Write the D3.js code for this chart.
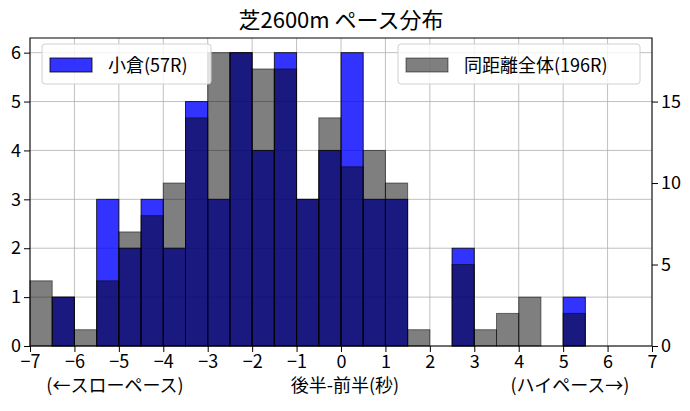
<!DOCTYPE html>
<html><head><meta charset="utf-8">
<script src="https://cdn.jsdelivr.net/npm/d3@7"></script>
<style>body{margin:0;background:#fff}text{font-family:"Noto Sans CJK JP",sans-serif}</style>
</head><body><div id="c"></div>
<script>
// bin left edges, width 0.5
const binStarts = d3.range(-7, 7, 0.5);
const kokura = [0,1,0,3,2,3,2,5,3,6,4,6,3,4,6,3,3,0,0,2,0,0,0,0,1,0,0,0];
const allDist = [4,3,1,4,7,8,10,14,18,18,17,17,9,14,11,12,10,1,0,5,1,2,3,0,2,0,0,0];
const xTicks = d3.range(-7, 8, 1);
const leftTicks = [0,1,2,3,4,5,6];
const rightTicks = [0,5,10,15];

const W = 690, H = 411, m = {l:30, r:38, t:38, b:65};
const svg = d3.select("#c").append("svg").attr("width", W).attr("height", H);
const x = d3.scaleLinear().domain([-7, 7]).range([m.l, W - m.r]);
const y = d3.scaleLinear().domain([0, 6.3]).range([H - m.b, m.t]);
const y2 = d3.scaleLinear().domain([0, 18.9]).range([H - m.b, m.t]);

// grid
svg.append("g").selectAll("line").data(xTicks).join("line")
  .attr("x1", d => x(d)).attr("x2", d => x(d)).attr("y1", m.t).attr("y2", H - m.b)
  .attr("stroke", "#b0b0b0").attr("stroke-width", 0.8);
svg.append("g").selectAll("line").data(leftTicks).join("line")
  .attr("x1", m.l).attr("x2", W - m.r).attr("y1", d => y(d)).attr("y2", d => y(d))
  .attr("stroke", "#b0b0b0").attr("stroke-width", 0.8);

const bw = 0.5;
svg.append("g").selectAll("rect").data(kokura.map((v, i) => ({s: binStarts[i], v}))).join("rect")
  .attr("x", d => x(d.s)).attr("width", d => x(d.s + bw) - x(d.s))
  .attr("y", d => y(d.v)).attr("height", d => y(0) - y(d.v))
  .attr("fill", "rgba(0,0,255,0.8)").attr("stroke", "rgba(0,0,0,0.8)").attr("stroke-width", 1);
svg.append("g").selectAll("rect").data(allDist.map((v, i) => ({s: binStarts[i], v}))).join("rect")
  .attr("x", d => x(d.s)).attr("width", d => x(d.s + bw) - x(d.s))
  .attr("y", d => y2(d.v)).attr("height", d => y2(0) - y2(d.v))
  .attr("fill", "rgba(0,0,0,0.5)").attr("stroke", "rgba(0,0,0,0.5)").attr("stroke-width", 1);

// frame
svg.append("rect").attr("x", m.l).attr("y", m.t).attr("width", W - m.l - m.r).attr("height", H - m.t - m.b)
  .attr("fill", "none").attr("stroke", "#000");

const ax = svg.append("g").attr("transform", `translate(0,${H - m.b})`)
  .call(d3.axisBottom(x).tickValues(xTicks).tickFormat(d3.format("d")).tickSizeOuter(0));
const ay = svg.append("g").attr("transform", `translate(${m.l},0)`)
  .call(d3.axisLeft(y).tickValues(leftTicks).tickFormat(d3.format("d")).tickSizeOuter(0));
const ay2 = svg.append("g").attr("transform", `translate(${W - m.r},0)`)
  .call(d3.axisRight(y2).tickValues(rightTicks).tickFormat(d3.format("d")).tickSizeOuter(0));
[ax, ay, ay2].forEach(a => {
  a.select(".domain").remove();
  a.selectAll("text").attr("font-size", 18).attr("fill", "#000").style("font-family", "'Noto Sans CJK JP'");
  a.selectAll("line").attr("stroke", "#000");
});
ax.selectAll(".tick text").text(d => d < 0 ? "\u2212" + (-d) : d);

svg.append("text").attr("x", (m.l + W - m.r) / 2).attr("y", 28).attr("text-anchor", "middle")
  .attr("font-size", 22).text("芝2600m ペース分布");
svg.append("text").attr("x", 345).attr("y", 392).attr("text-anchor", "middle").attr("font-size", 18).text("後半-前半(秒)");
svg.append("text").attr("x", 115).attr("y", 392).attr("text-anchor", "middle").attr("font-size", 18).text("(←スローペース)");
svg.append("text").attr("x", 570).attr("y", 392).attr("text-anchor", "middle").attr("font-size", 18).text("(ハイペース→)");

function legend(x0, w, fill, stroke, label) {
  const g = svg.append("g");
  g.append("rect").attr("x", x0).attr("y", 44).attr("width", w).attr("height", 40).attr("rx", 3)
    .attr("fill", "rgba(255,255,255,0.8)").attr("stroke", "#d0d0d0");
  g.append("rect").attr("x", x0 + 8).attr("y", 58).attr("width", 42).attr("height", 14)
    .attr("fill", fill).attr("stroke", stroke);
  g.append("text").attr("x", x0 + 66).attr("y", 72).attr("font-size", 18).text(label);
}
legend(42, 169, "rgba(0,0,255,0.8)", "rgba(0,0,0,0.8)", "小倉(57R)");
legend(398, 242, "rgba(0,0,0,0.5)", "rgba(0,0,0,0.5)", "同距離全体(196R)");
</script></body></html>
